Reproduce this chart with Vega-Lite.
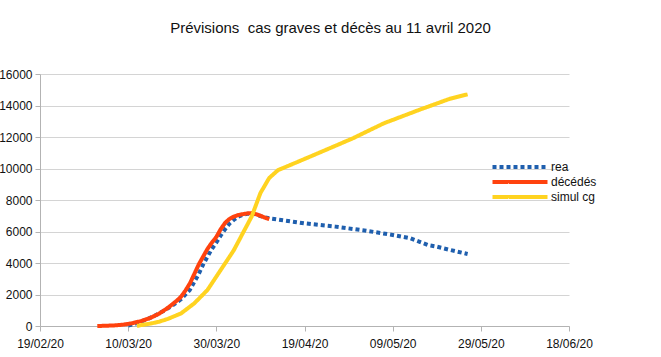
{
  "$schema": "https://vega.github.io/schema/vega-lite/v6.json",
  "width": 529,
  "height": 252,
  "autosize": {"type": "none"},
  "padding": {"left": 40, "top": 74, "right": 92, "bottom": 31},
  "background": "white",
  "title": {
    "text": "Prévisions\u00a0 cas graves et décès au 11 avril 2020",
    "font": "Liberation Sans",
    "fontSize": 15,
    "fontWeight": "normal",
    "color": "#111",
    "anchor": "middle",
    "dx": 26,
    "offset": 32
  },
  "data": {
    "values": [
      {"date": "2020-03-10", "serie": "rea", "value": 30},
      {"date": "2020-03-12", "serie": "rea", "value": 180},
      {"date": "2020-03-14", "serie": "rea", "value": 400},
      {"date": "2020-03-16", "serie": "rea", "value": 650},
      {"date": "2020-03-18", "serie": "rea", "value": 950},
      {"date": "2020-03-20", "serie": "rea", "value": 1300},
      {"date": "2020-03-22", "serie": "rea", "value": 1700},
      {"date": "2020-03-24", "serie": "rea", "value": 2300},
      {"date": "2020-03-25", "serie": "rea", "value": 2800},
      {"date": "2020-03-26", "serie": "rea", "value": 3300},
      {"date": "2020-03-27", "serie": "rea", "value": 3900},
      {"date": "2020-03-28", "serie": "rea", "value": 4400},
      {"date": "2020-03-29", "serie": "rea", "value": 4900},
      {"date": "2020-03-30", "serie": "rea", "value": 5300},
      {"date": "2020-03-31", "serie": "rea", "value": 5750},
      {"date": "2020-04-01", "serie": "rea", "value": 6150},
      {"date": "2020-04-02", "serie": "rea", "value": 6500},
      {"date": "2020-04-03", "serie": "rea", "value": 6750},
      {"date": "2020-04-04", "serie": "rea", "value": 6950},
      {"date": "2020-04-05", "serie": "rea", "value": 7050},
      {"date": "2020-04-06", "serie": "rea", "value": 7120},
      {"date": "2020-04-07", "serie": "rea", "value": 7150},
      {"date": "2020-04-08", "serie": "rea", "value": 7080},
      {"date": "2020-04-09", "serie": "rea", "value": 6980},
      {"date": "2020-04-10", "serie": "rea", "value": 6900},
      {"date": "2020-04-11", "serie": "rea", "value": 6840},
      {"date": "2020-04-19", "serie": "rea", "value": 6520},
      {"date": "2020-04-26", "serie": "rea", "value": 6310},
      {"date": "2020-05-03", "serie": "rea", "value": 6050},
      {"date": "2020-05-09", "serie": "rea", "value": 5780},
      {"date": "2020-05-13", "serie": "rea", "value": 5570},
      {"date": "2020-05-17", "serie": "rea", "value": 5140},
      {"date": "2020-05-19", "serie": "rea", "value": 5040},
      {"date": "2020-05-22", "serie": "rea", "value": 4830},
      {"date": "2020-05-26", "serie": "rea", "value": 4570},
      {"date": "2020-03-03", "serie": "décédés", "value": 0},
      {"date": "2020-03-05", "serie": "décédés", "value": 15},
      {"date": "2020-03-07", "serie": "décédés", "value": 40},
      {"date": "2020-03-09", "serie": "décédés", "value": 90},
      {"date": "2020-03-11", "serie": "décédés", "value": 180},
      {"date": "2020-03-13", "serie": "décédés", "value": 320},
      {"date": "2020-03-15", "serie": "décédés", "value": 510},
      {"date": "2020-03-17", "serie": "décédés", "value": 780},
      {"date": "2020-03-19", "serie": "décédés", "value": 1150},
      {"date": "2020-03-21", "serie": "décédés", "value": 1600},
      {"date": "2020-03-22", "serie": "décédés", "value": 1860},
      {"date": "2020-03-23", "serie": "décédés", "value": 2250},
      {"date": "2020-03-24", "serie": "décédés", "value": 2700},
      {"date": "2020-03-25", "serie": "décédés", "value": 3300},
      {"date": "2020-03-26", "serie": "décédés", "value": 3900},
      {"date": "2020-03-27", "serie": "décédés", "value": 4400},
      {"date": "2020-03-28", "serie": "décédés", "value": 4900},
      {"date": "2020-03-29", "serie": "décédés", "value": 5300},
      {"date": "2020-03-30", "serie": "décédés", "value": 5650},
      {"date": "2020-03-31", "serie": "décédés", "value": 6150},
      {"date": "2020-04-01", "serie": "décédés", "value": 6550},
      {"date": "2020-04-02", "serie": "décédés", "value": 6800},
      {"date": "2020-04-03", "serie": "décédés", "value": 6950},
      {"date": "2020-04-04", "serie": "décédés", "value": 7050},
      {"date": "2020-04-05", "serie": "décédés", "value": 7100},
      {"date": "2020-04-06", "serie": "décédés", "value": 7150},
      {"date": "2020-04-07", "serie": "décédés", "value": 7170},
      {"date": "2020-04-08", "serie": "décédés", "value": 7100},
      {"date": "2020-04-09", "serie": "décédés", "value": 7000},
      {"date": "2020-04-10", "serie": "décédés", "value": 6880},
      {"date": "2020-04-11", "serie": "décédés", "value": 6780},
      {"date": "2020-03-12", "serie": "simul cg", "value": 0},
      {"date": "2020-03-13", "serie": "simul cg", "value": 60},
      {"date": "2020-03-15", "serie": "simul cg", "value": 150},
      {"date": "2020-03-17", "serie": "simul cg", "value": 270},
      {"date": "2020-03-19", "serie": "simul cg", "value": 450},
      {"date": "2020-03-22", "serie": "simul cg", "value": 800},
      {"date": "2020-03-25", "serie": "simul cg", "value": 1440},
      {"date": "2020-03-28", "serie": "simul cg", "value": 2290},
      {"date": "2020-03-31", "serie": "simul cg", "value": 3560},
      {"date": "2020-04-02", "serie": "simul cg", "value": 4400},
      {"date": "2020-04-03", "serie": "simul cg", "value": 4830},
      {"date": "2020-04-05", "serie": "simul cg", "value": 5890},
      {"date": "2020-04-07", "serie": "simul cg", "value": 6940},
      {"date": "2020-04-09", "serie": "simul cg", "value": 8440},
      {"date": "2020-04-11", "serie": "simul cg", "value": 9400},
      {"date": "2020-04-13", "serie": "simul cg", "value": 9900},
      {"date": "2020-04-15", "serie": "simul cg", "value": 10130},
      {"date": "2020-04-22", "serie": "simul cg", "value": 10960},
      {"date": "2020-04-30", "serie": "simul cg", "value": 11920},
      {"date": "2020-05-07", "serie": "simul cg", "value": 12870},
      {"date": "2020-05-15", "serie": "simul cg", "value": 13720},
      {"date": "2020-05-22", "serie": "simul cg", "value": 14430},
      {"date": "2020-05-26", "serie": "simul cg", "value": 14710}
    ]
  },
  "mark": {"type": "line", "strokeWidth": 4, "strokeCap": "butt", "strokeJoin": "round"},
  "encoding": {
    "x": {
      "field": "date",
      "type": "temporal",
      "scale": {
        "type": "utc",
        "domain": [
          {"year": 2020, "month": 2, "date": 19, "utc": true},
          {"year": 2020, "month": 6, "date": 18, "utc": true}
        ]
      },
      "axis": {
        "title": null,
        "values": [
          {"year": 2020, "month": 2, "date": 19, "utc": true},
          {"year": 2020, "month": 3, "date": 10, "utc": true},
          {"year": 2020, "month": 3, "date": 30, "utc": true},
          {"year": 2020, "month": 4, "date": 19, "utc": true},
          {"year": 2020, "month": 5, "date": 9, "utc": true},
          {"year": 2020, "month": 5, "date": 29, "utc": true},
          {"year": 2020, "month": 6, "date": 18, "utc": true}
        ],
        "labelExpr": "utcFormat(datum.value, '%d/%m/%y')",
        "grid": false,
        "domainColor": "#b3b3b3",
        "tickColor": "#b3b3b3",
        "tickSize": 5,
        "labelPadding": 7,
        "labelFlush": false,
        "labelOverlap": false
      }
    },
    "y": {
      "field": "value",
      "type": "quantitative",
      "scale": {"domain": [0, 16000], "nice": false},
      "axis": {
        "title": null,
        "values": [0, 2000, 4000, 6000, 8000, 10000, 12000, 14000, 16000],
        "format": "d",
        "grid": true,
        "gridColor": "#d4d4d4",
        "domainColor": "#b3b3b3",
        "tickColor": "#b3b3b3",
        "tickSize": 5,
        "labelPadding": 3
      }
    },
    "color": {
      "field": "serie",
      "type": "nominal",
      "scale": {
        "domain": ["rea", "décédés", "simul cg"],
        "range": ["#1f5fae", "#ff420e", "#ffd320"]
      },
      "legend": {
        "title": null,
        "orient": "none",
        "legendX": 474,
        "legendY": 87,
        "symbolType": "M-6.875,0H6.875",
        "symbolSize": 64,
        "symbolStrokeWidth": 4,
        "labelFontSize": 12,
        "labelFont": "Liberation Sans",
        "labelColor": "#111",
        "labelOffset": 25,
        "rowPadding": -1
      }
    },
    "strokeDash": {
      "field": "serie",
      "type": "nominal",
      "scale": {
        "domain": ["rea", "décédés", "simul cg"],
        "range": [[4, 3], [1, 0], [1, 0]]
      },
      "legend": null
    }
  },
  "config": {
    "view": {"stroke": null},
    "axis": {
      "labelFont": "Liberation Sans",
      "labelFontSize": 12,
      "labelColor": "#111"
    }
  }
}
